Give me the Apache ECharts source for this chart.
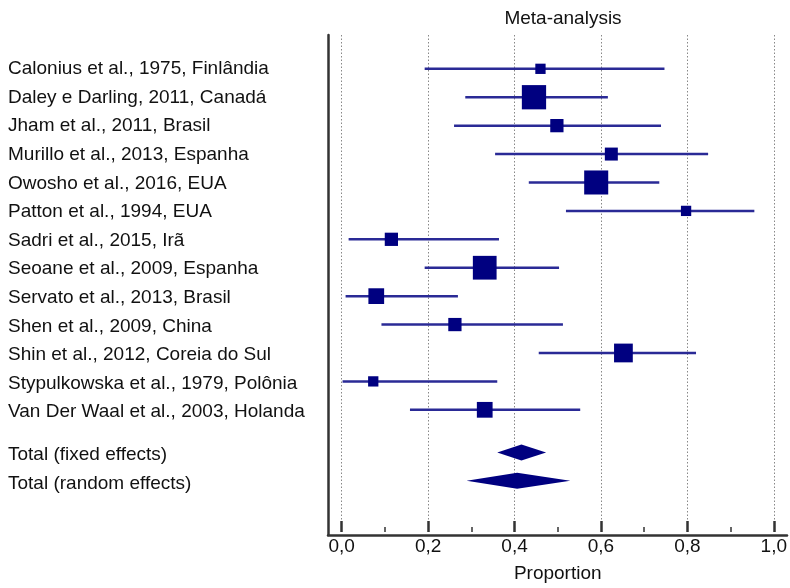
<!DOCTYPE html>
<html>
<head>
<meta charset="utf-8">
<script src="https://cdn.jsdelivr.net/npm/echarts@6/dist/echarts.min.js"></script>
<style>html,body{margin:0;padding:0;background:#fff}#c{width:790px;height:588px}</style>
</head>
<body>
<div id="c"></div>
<script>
// ---- data ----
var studies = [
  "Calonius et al., 1975, Finlândia",
  "Daley e Darling, 2011, Canadá",
  "Jham et al., 2011, Brasil",
  "Murillo et al., 2013, Espanha",
  "Owosho et al., 2016, EUA",
  "Patton et al., 1994, EUA",
  "Sadri et al., 2015, Irã",
  "Seoane et al., 2009, Espanha",
  "Servato et al., 2013, Brasil",
  "Shen et al., 2009, China",
  "Shin et al., 2012, Coreia do Sul",
  "Stypulkowska et al., 1979, Polônia",
  "Van Der Waal et al., 2003, Holanda"
];
var proportion = [0.460, 0.445, 0.498, 0.624, 0.589, 0.797, 0.115, 0.331, 0.080, 0.262, 0.652, 0.073, 0.331];
var ciLower    = [0.192, 0.286, 0.260, 0.355, 0.433, 0.519, 0.016, 0.192, 0.009, 0.092, 0.456, 0.002, 0.158];
var ciUpper    = [0.747, 0.616, 0.739, 0.848, 0.735, 0.955, 0.364, 0.503, 0.269, 0.512, 0.820, 0.360, 0.552];
var weightPct  = [2.95, 16.4, 4.9, 4.7, 16.1, 2.95, 4.9, 15.7, 6.9, 4.9, 9.8, 2.95, 6.9];
var totalLabels = ["Total (fixed effects)", "Total (random effects)"];
var totalEst   = [0.416, 0.406];
var totalLower = [0.360, 0.289];
var totalUpper = [0.473, 0.529];

// ---- build ----
var rowPos = studies.map(function (s, i) { return i + 1; });
var totalPos = [14.5, 15.5];
var labelMap = {};
studies.forEach(function (s, i) { labelMap[rowPos[i]] = s; });
totalLabels.forEach(function (s, i) { labelMap[totalPos[i]] = s; });

var ciData = studies.map(function (s, i) { return [ciLower[i], ciUpper[i], rowPos[i]]; });
var sqData = studies.map(function (s, i) { return [proportion[i], rowPos[i], weightPct[i]]; });
var dmData = totalLabels.map(function (s, i) { return [totalLower[i], totalEst[i], totalUpper[i], totalPos[i]]; });

var navy = '#000080';
var font = 'Liberation Sans, Arial, sans-serif';
var fs = 19;
var yMin = -0.19, yMax = 17.30;

var chart = echarts.init(document.getElementById('c'), null, { renderer: 'canvas' });
chart.setOption({
  animation: false,
  backgroundColor: '#fff',
  title: {
    text: 'Meta-analysis', left: 558, top: 4, textAlign: 'center',
    textStyle: { fontFamily: font, fontSize: fs, fontWeight: 'normal', color: '#111' }
  },
  grid: [
    { left: 328, right: 3, top: 35, bottom: 53, containLabel: false },
    { left: 341.7, right: 15.3, top: 35, bottom: 53, containLabel: false }
  ],
  xAxis: [
    { gridIndex: 0, type: 'value', min: -0.03, max: 1.03, position: 'bottom',
      axisLine: { show: true, onZero: false, lineStyle: { color: '#333', width: 2.5 } },
      axisTick: { show: false }, axisLabel: { show: false }, splitLine: { show: false } },
    { gridIndex: 1, type: 'value', min: 0, max: 1, interval: 0.2, position: 'bottom',
      name: 'Proportion', nameLocation: 'middle', nameGap: 32,
      nameTextStyle: { fontFamily: font, fontSize: fs, color: '#111' },
      axisLine: { show: false, onZero: false },
      axisTick: { show: true, inside: true, length: 11, lineStyle: { color: '#333', width: 2.5 } },
      minorTick: { show: true, splitNumber: 2, length: 5, lineStyle: { color: '#333', width: 1.5 } },
      axisLabel: { margin: 5, fontFamily: font, fontSize: fs, color: '#111',
        formatter: function (v) { return v.toFixed(1).replace('.', ','); } },
      splitLine: { show: true, lineStyle: { color: '#888', type: [1.5, 2], width: 1 } }
    }
  ],
  yAxis: [
    { gridIndex: 0, type: 'value', inverse: true, min: yMin, max: yMax, position: 'left',
      axisLine: { show: true, onZero: false, lineStyle: { color: '#333', width: 2.5 } },
      axisTick: { show: false }, splitLine: { show: false },
      axisLabel: { show: true, align: 'left', margin: 320, fontFamily: font, fontSize: fs, color: '#111',
        customValues: rowPos.concat(totalPos),
        formatter: function (v) { return labelMap[v] || ''; } } },
    { gridIndex: 1, type: 'value', inverse: true, min: yMin, max: yMax, show: false }
  ],
  series: [
    {
      type: 'custom', xAxisIndex: 1, yAxisIndex: 1, data: ciData, z: 2,
      renderItem: function (params, api) {
        var a = api.coord([api.value(0), api.value(2)]);
        var b = api.coord([api.value(1), api.value(2)]);
        return { type: 'line', shape: { x1: a[0], y1: a[1], x2: b[0], y2: b[1] },
          style: { stroke: '#2a2a96', lineWidth: 2.5 } };
      }
    },
    {
      type: 'scatter', xAxisIndex: 1, yAxisIndex: 1, data: sqData, z: 3,
      symbol: 'rect',
      symbolSize: function (v) { return Math.sqrt(v[2] * 35.9); },
      itemStyle: { color: navy, opacity: 1 }
    },
    {
      type: 'custom', xAxisIndex: 1, yAxisIndex: 1, data: dmData, z: 3,
      renderItem: function (params, api) {
        var y = api.value(3);
        var l = api.coord([api.value(0), y]);
        var m = api.coord([api.value(1), y]);
        var r = api.coord([api.value(2), y]);
        var h = 8;
        return { type: 'polygon',
          shape: { points: [[l[0], l[1]], [m[0], m[1] - h], [r[0], r[1]], [m[0], m[1] + h]] },
          style: { fill: navy } };
      }
    }
  ]
});
</script>
</body>
</html>
